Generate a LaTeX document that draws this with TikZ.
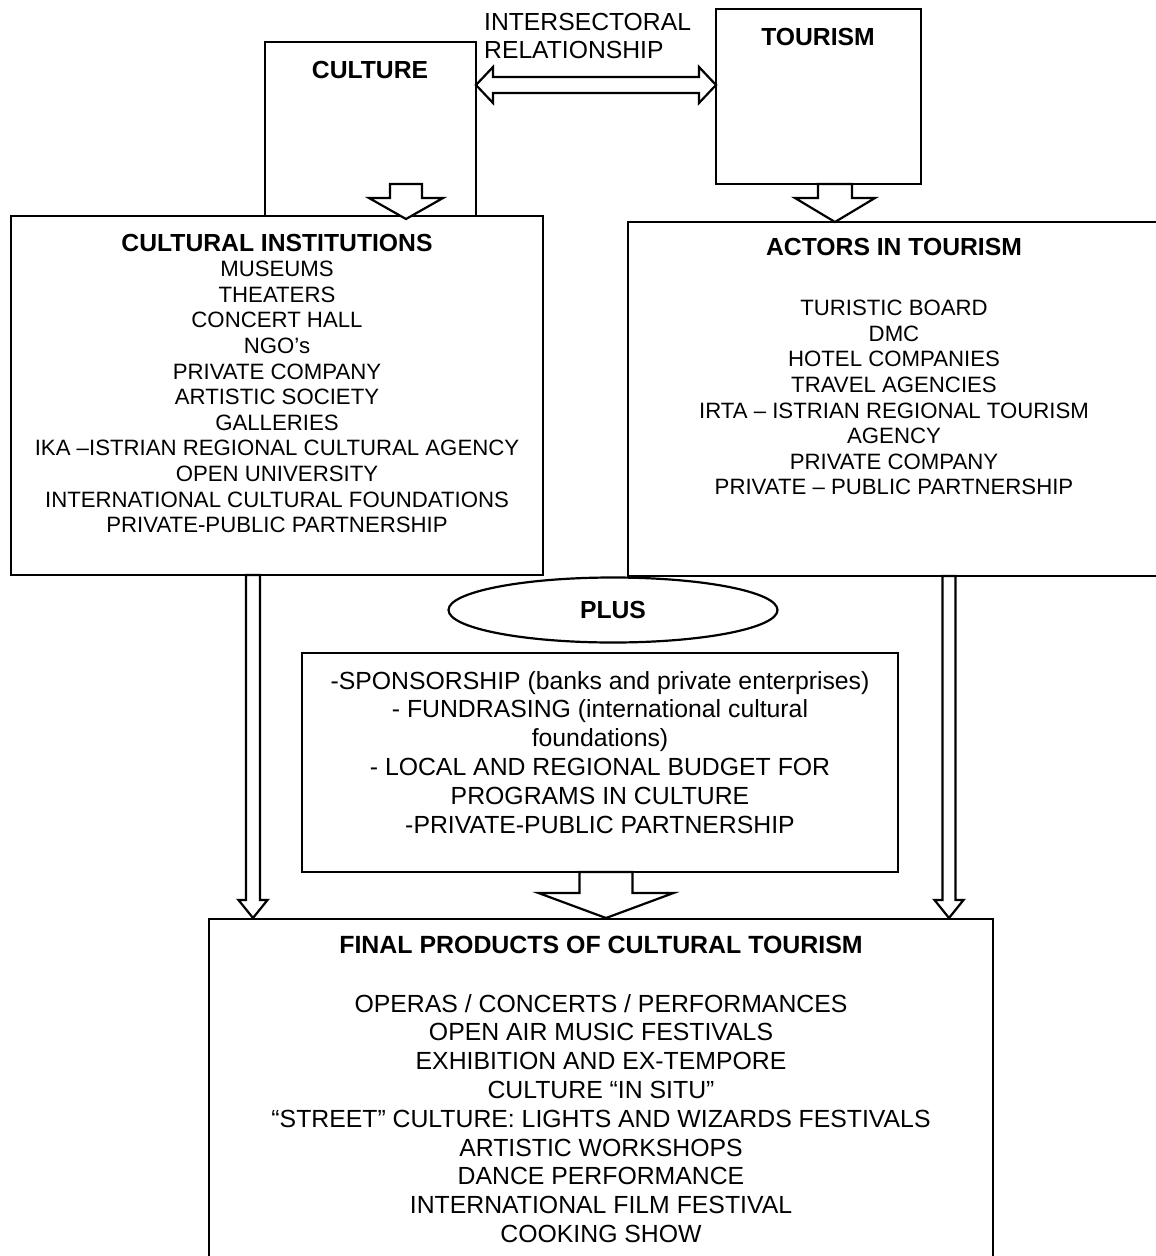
\documentclass[tikz,border=0pt]{standalone}
\usepackage{fontspec}
\setmainfont{Liberation Sans}
\usetikzlibrary{calc,shapes.geometric}
\newcommand\vblk[5]{% start, tip, shaft half width, head half width, head length
  \draw[blk] ($(#1)+(-#3,0)$) -- ($(#2)+(-#3,-#5)$) -- ($(#2)+(-#4,-#5)$) -- (#2)
    -- ($(#2)+(#4,-#5)$) -- ($(#2)+(#3,-#5)$) -- ($(#1)+(#3,0)$) -- cycle;}
\tikzset{
  box/.style={draw, line width=2.2pt, fill=white, inner sep=0pt, outer sep=0pt, anchor=north west},
  blk/.style={draw, line width=2.2pt, fill=white, line join=miter},
  hd/.style={font=\bfseries\fontsize{24.7}{28}\selectfont, inner sep=0pt},
  bodya/.style={font=\fontsize{22.2}{25.6}\selectfont, align=center, inner sep=0pt, anchor=north},
  bodyb/.style={font=\fontsize{24.8}{28.8}\selectfont, align=center, inner sep=0pt, anchor=north},
}
\begin{document}
\begin{tikzpicture}[x=1pt,y=-1pt]
\useasboundingbox (0,0) rectangle (1156,1256);
% boxes
\node[box, minimum width=211, minimum height=174] (culture) at (265,42) {};
\node[box, minimum width=205, minimum height=175] (tourism) at (716,9) {};
\node[box, minimum width=532, minimum height=359] (ci) at (11,216) {};
\node[box, minimum width=540, minimum height=354] (actors) at (628,222) {};
\node[box, minimum width=596, minimum height=219] (spons) at (302,653) {};
\node[box, minimum width=784, minimum height=350] (final) at (209,919) {};
\node[draw, ellipse, line width=2.2pt, fill=white, minimum width=329, minimum height=65, inner sep=0pt] (plus) at (613,610) {};

% labels
\node[hd] (culturelbl) at (370,70) {CULTURE};
\node[hd] (tourismlbl) at (818,37) {TOURISM};
\node[font=\fontsize{24.7}{28}\selectfont, align=left, inner sep=0pt, anchor=north west] (isr) at (484,13) {INTERSECTORAL\\RELATIONSHIP};
\node[hd] (cihd) at (277,243) {CULTURAL INSTITUTIONS};
\node[bodya] (cibody) at (277,261) {MUSEUMS\\THEATERS\\CONCERT HALL\\NGO's\\PRIVATE COMPANY\\ARTISTIC SOCIETY\\GALLERIES\\IKA –ISTRIAN REGIONAL CULTURAL AGENCY\\OPEN UNIVERSITY\\INTERNATIONAL CULTURAL FOUNDATIONS\\PRIVATE-PUBLIC PARTNERSHIP};
\node[hd] (achd) at (894,247) {ACTORS IN TOURISM};
\node[bodya] (acbody) at (894,300) {TURISTIC BOARD\\DMC\\HOTEL COMPANIES\\TRAVEL AGENCIES\\IRTA – ISTRIAN REGIONAL TOURISM\\AGENCY\\PRIVATE COMPANY\\PRIVATE – PUBLIC PARTNERSHIP};
\node[hd] (pluslbl) at (plus.center) {PLUS};
\node[bodyb] (spbody) at (600,671) {-SPONSORSHIP (banks and private enterprises)\\- FUNDRASING (international cultural\\foundations)\\- LOCAL AND REGIONAL BUDGET FOR\\PROGRAMS IN CULTURE\\-PRIVATE-PUBLIC PARTNERSHIP};
\node[hd, font=\bfseries\fontsize{24.9}{28}\selectfont] (fphd) at (601,945) {FINAL PRODUCTS OF CULTURAL TOURISM};
\node[bodyb] (fpbody) at (601,994) {OPERAS / CONCERTS / PERFORMANCES\\OPEN AIR MUSIC FESTIVALS\\EXHIBITION AND EX-TEMPORE\\CULTURE “IN SITU”\\“STREET” CULTURE: LIGHTS AND WIZARDS FESTIVALS\\ARTISTIC WORKSHOPS\\DANCE PERFORMANCE\\INTERNATIONAL FILM FESTIVAL\\COOKING SHOW};

% double arrow culture <-> tourism
\coordinate (daL) at ($(culture.north east)+(0,43)$);
\coordinate (daR) at ($(tourism.north west)+(0,76)$);
\draw[blk] (daL) -- ($(daL)+(17,-18)$) -- ($(daL)+(17,-8)$) -- ($(daR)+(-17,-8)$) -- ($(daR)+(-17,-18)$) -- (daR)
  -- ($(daR)+(-17,18)$) -- ($(daR)+(-17,8)$) -- ($(daL)+(17,8)$) -- ($(daL)+(17,18)$) -- cycle;

% block arrows
\coordinate (ca1) at ($(culture.south)+(35.5,-32)$);
\coordinate (ca2) at ($(ci.north)+(129,3)$);
\vblk{ca1}{ca2}{16}{37}{21}
\coordinate (ta1) at ($(tourism.south)+(16.5,0)$);
\coordinate (ta2) at ($(actors.north)+(-63,0)$);
\vblk{ta1}{ta2}{17}{40}{24}
\coordinate (sa1) at ($(spons.south)+(6,0)$);
\coordinate (sa2) at ($(final.north)+(5,-1)$);
\vblk{sa1}{sa2}{26.5}{67.5}{25}
\coordinate (la1) at ($(ci.south)+(-24,0)$);
\coordinate (la2) at ($(final.north west)+(44,-1)$);
\vblk{la1}{la2}{7}{14.5}{18}
\coordinate (ra1) at ($(actors.south west)+(321,0)$);
\coordinate (ra2) at ($(final.north east)+(-44,-1)$);
\vblk{ra1}{ra2}{6.5}{14.5}{18}
\end{tikzpicture}
\end{document}
